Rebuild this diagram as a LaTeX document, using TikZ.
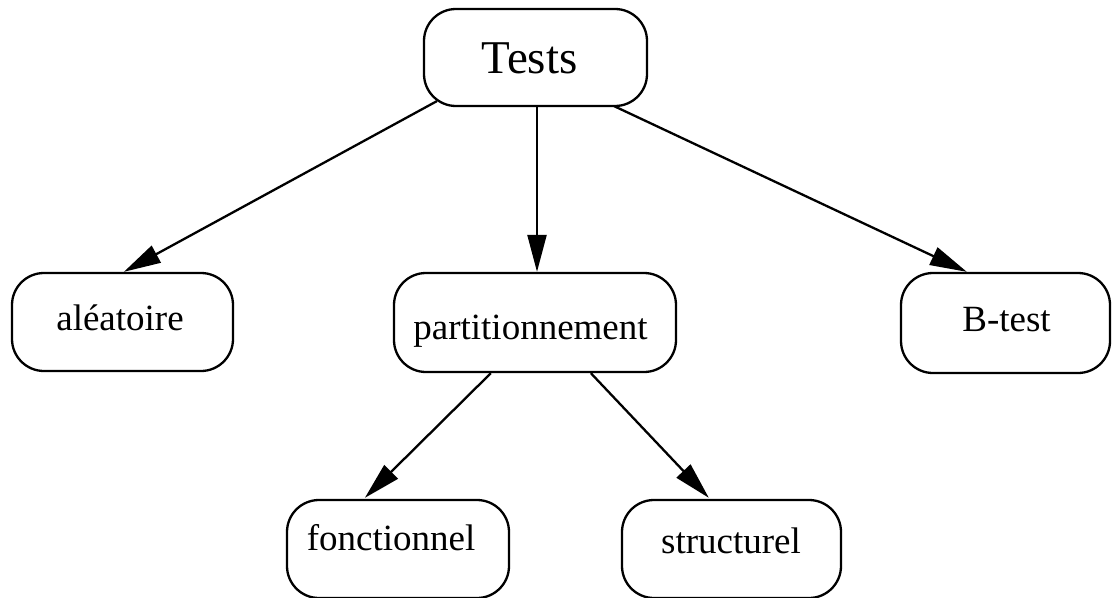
\documentclass[tikz,border=0pt]{standalone}
\usepackage{fontspec}
\setmainfont{Liberation Serif}
\usetikzlibrary{arrows.meta}
\begin{document}
\begin{tikzpicture}[x=1pt,y=-1pt,
  box/.style={draw,line width=2.3pt,rounded corners=32pt,inner sep=0pt},
  lbl/.style={anchor=base,inner sep=0pt,font=\fontsize{37}{40}\selectfont},
  big/.style={anchor=base,inner sep=0pt,font=\fontsize{47}{50}\selectfont},
  link/.style={line width=2.3pt,-{Triangle[length=37pt,width=19pt]}}]
\useasboundingbox[clip] (0,0) rectangle (1113,597);
% boxes
\node[box,minimum width=223pt,minimum height=97pt] (tests) at (535.5,57.5) {};
\node[box,minimum width=221pt,minimum height=98pt] (alea) at (122.5,322) {};
\node[box,minimum width=282pt,minimum height=99pt] (part) at (535,322.5) {};
\node[box,minimum width=209pt,minimum height=100pt] (btest) at (1005.5,323) {};
\node[box,minimum width=222pt,minimum height=98pt] (fonc) at (398,549) {};
\node[box,minimum width=219pt,minimum height=98pt] (struct) at (731.5,549) {};
% labels
\node[big] (tTests) at (529.5,73) {Tests};
\node[lbl] (tAlea) at (120,330) {aléatoire};
\node[lbl] (tPart) at (530.5,339) {partitionnement};
\node[lbl] (tBtest) at (1006.5,331) {B-test};
\node[lbl] (tFonc) at (391,550) {fonctionnel};
\node[lbl] (tStruct) at (731,553) {structurel};
% connectors
\draw[link] ([xshift=14pt,yshift=6pt]tests.south west) -- ([xshift=113pt]alea.north west);
\draw[link] ([xshift=1.5pt]tests.south) -- ([xshift=2pt]part.north);
\draw[link] ([xshift=-34pt,yshift=1pt]tests.south east) -- ([xshift=67pt]btest.north west);
\draw[link] ([xshift=98pt]part.south west) -- ([xshift=79pt,yshift=1pt]fonc.north west);
\draw[link] ([xshift=198pt]part.south west) -- ([xshift=88pt,yshift=1pt]struct.north west);
\end{tikzpicture}
\end{document}
